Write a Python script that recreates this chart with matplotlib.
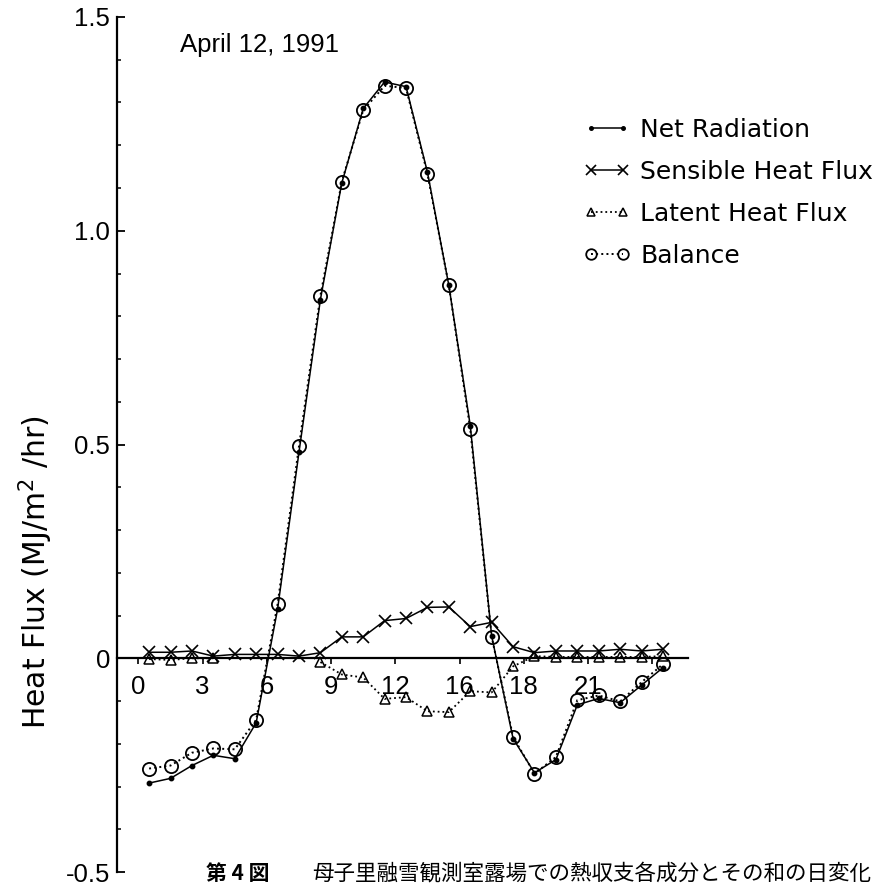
import numpy as np
import matplotlib
matplotlib.use("Agg")
import matplotlib.pyplot as plt
from matplotlib.ticker import MultipleLocator

# ---------------- data ----------------
hours = np.arange(25) + 0.5

net_radiation = [-0.292, -0.281, -0.251, -0.227, -0.235, -0.151, 0.115, 0.482,
                 0.839, 1.112, 1.286, 1.348, 1.337, 1.137, 0.872, 0.544,
                 0.052, -0.188, -0.268, -0.237, -0.109, -0.094, -0.104, -0.063,
                 -0.022]
sensible = [0.014, 0.014, 0.017, 0.005, 0.009, 0.009, 0.009, 0.005,
            0.013, 0.050, 0.050, 0.088, 0.093, 0.119, 0.120, 0.074,
            0.084, 0.027, 0.013, 0.017, 0.017, 0.017, 0.021, 0.017, 0.021]
latent = [-0.002, -0.004, 0.000, 0.000, np.nan, np.nan, np.nan, np.nan,
          -0.009, -0.038, -0.045, -0.095, -0.091, -0.124, -0.126, -0.077,
          -0.080, -0.019, 0.005, 0.003, 0.003, 0.003, 0.003, 0.003, 0.005]
balance = [-0.258, -0.251, -0.221, -0.211, -0.213, -0.144, 0.126, 0.496,
           0.848, 1.115, 1.282, 1.339, 1.334, 1.133, 0.872, 0.536,
           0.050, -0.184, -0.270, -0.231, -0.098, -0.087, -0.101, -0.056,
           -0.014]

x_ticks = [0, 3, 6, 9, 12, 15, 18, 21, 24]
x_tick_labels = ["0", "3", "6", "9", "12", "16", "18", "21", ""]
y_ticks = [-0.5, 0, 0.5, 1.0, 1.5]
y_tick_labels = ["-0.5", "0", "0.5", "1.0", "1.5"]

series_labels = ["Net Radiation", "Sensible Heat Flux", "Latent Heat Flux", "Balance"]
date_text = "April 12, 1991"
y_label = "Heat Flux (MJ/m$^2$ /hr)"
caption_bold = "第 4 図"
caption_text = "母子里融雪観測室露場での熱収支各成分とその和の日変化"

# ---------------- figure ----------------
W, H = 875, 892
fig = plt.figure(figsize=(W / 100, H / 100), dpi=100)
ax = fig.add_axes([117 / W, 1 - 872 / H, (688 - 117) / W, (872 - 17) / H])
ax.set_xlim(-1.0, 25.67)
ax.set_ylim(-0.5, 1.5)

lw = 1.1
l_net, = ax.plot(hours, net_radiation, "-", color="black", lw=lw,
                 marker="o", ms=3.2, mfc="black", mec="black", zorder=4)
l_sen, = ax.plot(hours, sensible, "-", color="black", lw=lw,
                 marker="x", ms=9, mew=1.2, zorder=3)
l_lat, = ax.plot(hours, latent, ":", color="black", lw=1.3,
                 marker="^", ms=7.5, mfc="none", mec="black", mew=1.1, zorder=3)
l_bal, = ax.plot(hours, balance, ":", color="black", lw=1.4,
                 marker="o", ms=9.5, mfc="none", mec="black", mew=1.3, zorder=3)

# spines
for s in ["top", "right"]:
    ax.spines[s].set_visible(False)
ax.spines["bottom"].set_position(("data", 0))
ax.spines["left"].set_linewidth(1.6)
ax.spines["bottom"].set_linewidth(1.6)

tick_family = ["Liberation Sans", "DejaVu Sans"]
ax.set_xticks(x_ticks, labels=x_tick_labels)
ax.set_yticks(y_ticks, labels=y_tick_labels)
for lab in ax.get_xticklabels() + ax.get_yticklabels():
    lab.set_fontfamily(tick_family)
    lab.set_fontsize(18.5)
ax.yaxis.set_minor_locator(MultipleLocator(0.1))
ax.tick_params(axis="x", direction="out", length=4, width=1.2, pad=8)
ax.tick_params(axis="y", which="major", direction="in", length=6, width=1.3, pad=5)
ax.tick_params(axis="y", which="minor", direction="in", length=3, width=1.1)

# legend
leg = ax.legend([l_net, l_sen, l_lat, l_bal], series_labels,
                loc="upper left", bbox_to_anchor=(583 / W, 1 - 118 / H),
                bbox_transform=fig.transFigure, frameon=False,
                prop=dict(family="DejaVu Sans", size=18),
                handlelength=1.9, handletextpad=0.4, labelspacing=0.72,
                borderpad=0, borderaxespad=0, numpoints=2, markerscale=0.8)

# texts
fig.text(180 / W, 1 - 45 / H, date_text, ha="left", va="center",
         family=tick_family, fontsize=18.5)
fig.text(36 / W, 1 - 572 / H, y_label, rotation=90, ha="center", va="center",
         family="DejaVu Sans", fontsize=21.5)
fig.text(206 / W, 1 - 873 / H, caption_bold, ha="left", va="center",
         family=["Noto Sans CJK JP", "DejaVu Sans"], fontsize=15, fontweight="bold")
fig.text(312 / W, 1 - 873 / H, caption_text, ha="left", va="center",
         family=["Noto Sans CJK JP", "DejaVu Sans"], fontsize=15.5)

fig.savefig("out.png", dpi=100)
